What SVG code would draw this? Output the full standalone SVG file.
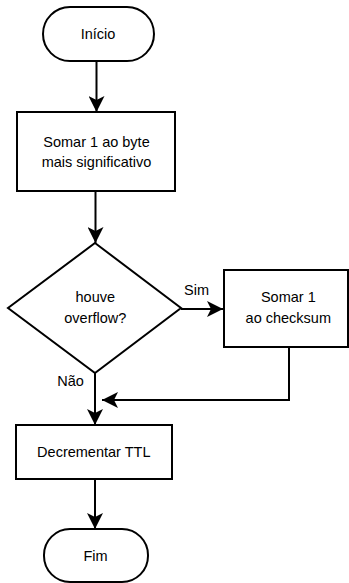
<svg xmlns="http://www.w3.org/2000/svg" width="349" height="583" viewBox="0 0 349 583">
<style>
.shape{fill:#fff;stroke:#000;stroke-width:2}
.edge{fill:none;stroke:#000;stroke-width:2}
text{font-family:"Liberation Sans",Arial,sans-serif;font-size:14.5px;fill:#000;text-anchor:middle}
</style>
<defs>
<marker id="arr" viewBox="0 0 16 16" refX="16" refY="8" markerWidth="16" markerHeight="16" markerUnits="userSpaceOnUse" orient="auto">
<path d="M0,0 L16,8 L0,16 L4,8 Z" fill="#000"/>
</marker>
</defs>
<g id="connectors">
<path class="edge" d="M96.5,61 V112" marker-end="url(#arr)"/>
<path class="edge" d="M95.5,191 V243" marker-end="url(#arr)"/>
<path class="edge" d="M181,309 H223" marker-end="url(#arr)"/>
<path class="edge" d="M95,373 V425" marker-end="url(#arr)"/>
<path class="edge" d="M289,347 V400 H102" marker-end="url(#arr)"/>
<path class="edge" d="M95,479 V529" marker-end="url(#arr)"/>
<text x="196.5" y="295">Sim</text>
<text x="70.5" y="386">Não</text>
</g>
<g id="inicio">
<rect class="shape" x="43" y="7" width="111" height="54" rx="27" ry="27"/>
<text x="98" y="39">Início</text>
</g>
<g id="somar-byte">
<rect class="shape" x="17" y="112" width="158" height="79"/>
<text x="96.5" y="146.7">Somar 1 ao byte</text>
<text x="96.5" y="166.7">mais significativo</text>
</g>
<g id="overflow">
<polygon class="shape" points="95,243 181,308 95,373 8,308"/>
<text x="95.3" y="301.7">houve</text>
<text x="95.3" y="322.7">overflow?</text>
</g>
<g id="somar-checksum">
<rect class="shape" x="224" y="270" width="124" height="77"/>
<text x="288.3" y="301.7">Somar 1</text>
<text x="288.3" y="323">ao checksum</text>
</g>
<g id="decrementar">
<rect class="shape" x="16" y="425" width="156" height="54"/>
<text x="93.8" y="456.5">Decrementar TTL</text>
</g>
<g id="fim">
<rect class="shape" x="44" y="529" width="104" height="53" rx="26" ry="26"/>
<text x="95.5" y="561">Fim</text>
</g>
</svg>
